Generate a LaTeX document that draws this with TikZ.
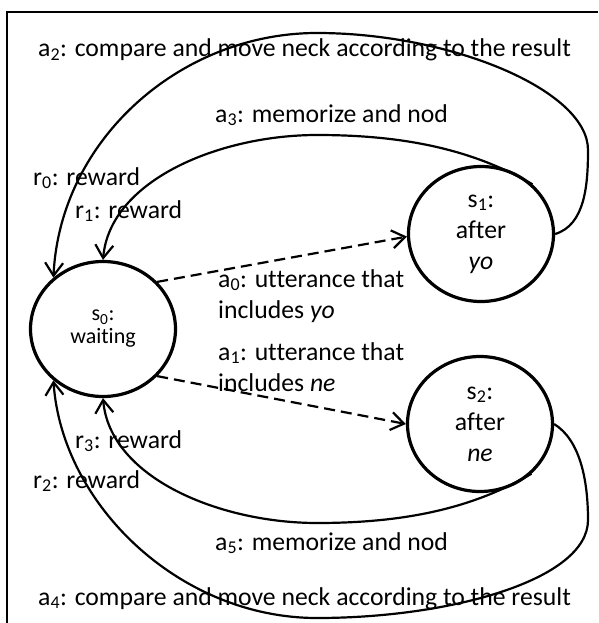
\documentclass[tikz,border=0pt]{standalone}
\usepackage{fontspec}
\setmainfont{Carlito}[Ligatures=NoCommon]
\usetikzlibrary{arrows.meta,shapes.geometric}
\begin{document}
\begin{tikzpicture}[x=1pt,y=-1pt,
  state/.style={ellipse, draw, line width=3.2pt, minimum width=145pt,
    minimum height=135pt, inner sep=0pt, align=center,
    font=\fontsize{25.7}{31}\selectfont},
  arc/.style={line width=2.2pt, -{Straight Barb[length=13pt,width=18pt]}},
  trans/.style={arc, dash pattern=on 11pt off 6pt},
  lbl/.style={font=\fontsize{25.7}{31}\selectfont, inner sep=0pt,
    anchor=base west, align=left}]
\useasboundingbox (0,0) rectangle (598,623);
% frame
\draw[line width=1.9pt] (7,623) -- (7,12) -- (598,12);

% states
\node[state, font=\fontsize{22}{23}\selectfont] (s0) at (103,329) {s\textsubscript{0}:\\waiting};
\node[state] (s1) at (481,234) {s\textsubscript{1}:\\after\\\textit{yo}};
\node[state] (s2) at (480,424) {s\textsubscript{2}:\\after\\\textit{ne}};

% labels (multi-line labels are placed by their last baseline)
\node[lbl] (l2) at (38,57) {a\textsubscript{2}: compare and move neck according to the result};
\node[lbl] (l3) at (215,122) {a\textsubscript{3}: memorize and nod};
\node[lbl] (lr0) at (33,185) {r\textsubscript{0}: reward};
\node[lbl] (lr1) at (75,218) {r\textsubscript{1}: reward};
\node[lbl] (l0) at (218,318) {a\textsubscript{0}: utterance that\\includes \textit{yo}};
\node[lbl] (l1) at (218,391) {a\textsubscript{1}: utterance that\\includes \textit{ne}};
\node[lbl] (lr3) at (75,448) {r\textsubscript{3}: reward};
\node[lbl] (lr2) at (33,488) {r\textsubscript{2}: reward};
\node[lbl] (l5) at (215,550) {a\textsubscript{5}: memorize and nod};
\node[lbl] (l4) at (38,605) {a\textsubscript{4}: compare and move neck according to the result};

% utterance transitions
\draw[trans] (s0.41) -- (s1.182);
\draw[trans] (s0.-41) -- (s2.180);

% returns to waiting
\draw[arc] (s1.east) .. controls (585,225) and (588,185) .. (588,150)
  .. controls (588,90) and (450,33) .. (317,33)
  .. controls (180,33) and (60,140) .. (s0.134);
\draw[arc] (s1.44) .. controls (470,148) and (400,135) .. (317,135)
  .. controls (220,135) and (110,180) .. (s0.north);
\draw[arc] (s2.-44) .. controls (470,510) and (400,523) .. (317,523)
  .. controls (220,523) and (110,478) .. (s0.south);
\draw[arc] (s2.east) .. controls (580,440) and (588,480) .. (588,520)
  .. controls (588,580) and (450,618) .. (317,618)
  .. controls (180,618) and (62,505) .. (s0.-134);
\end{tikzpicture}
\end{document}
